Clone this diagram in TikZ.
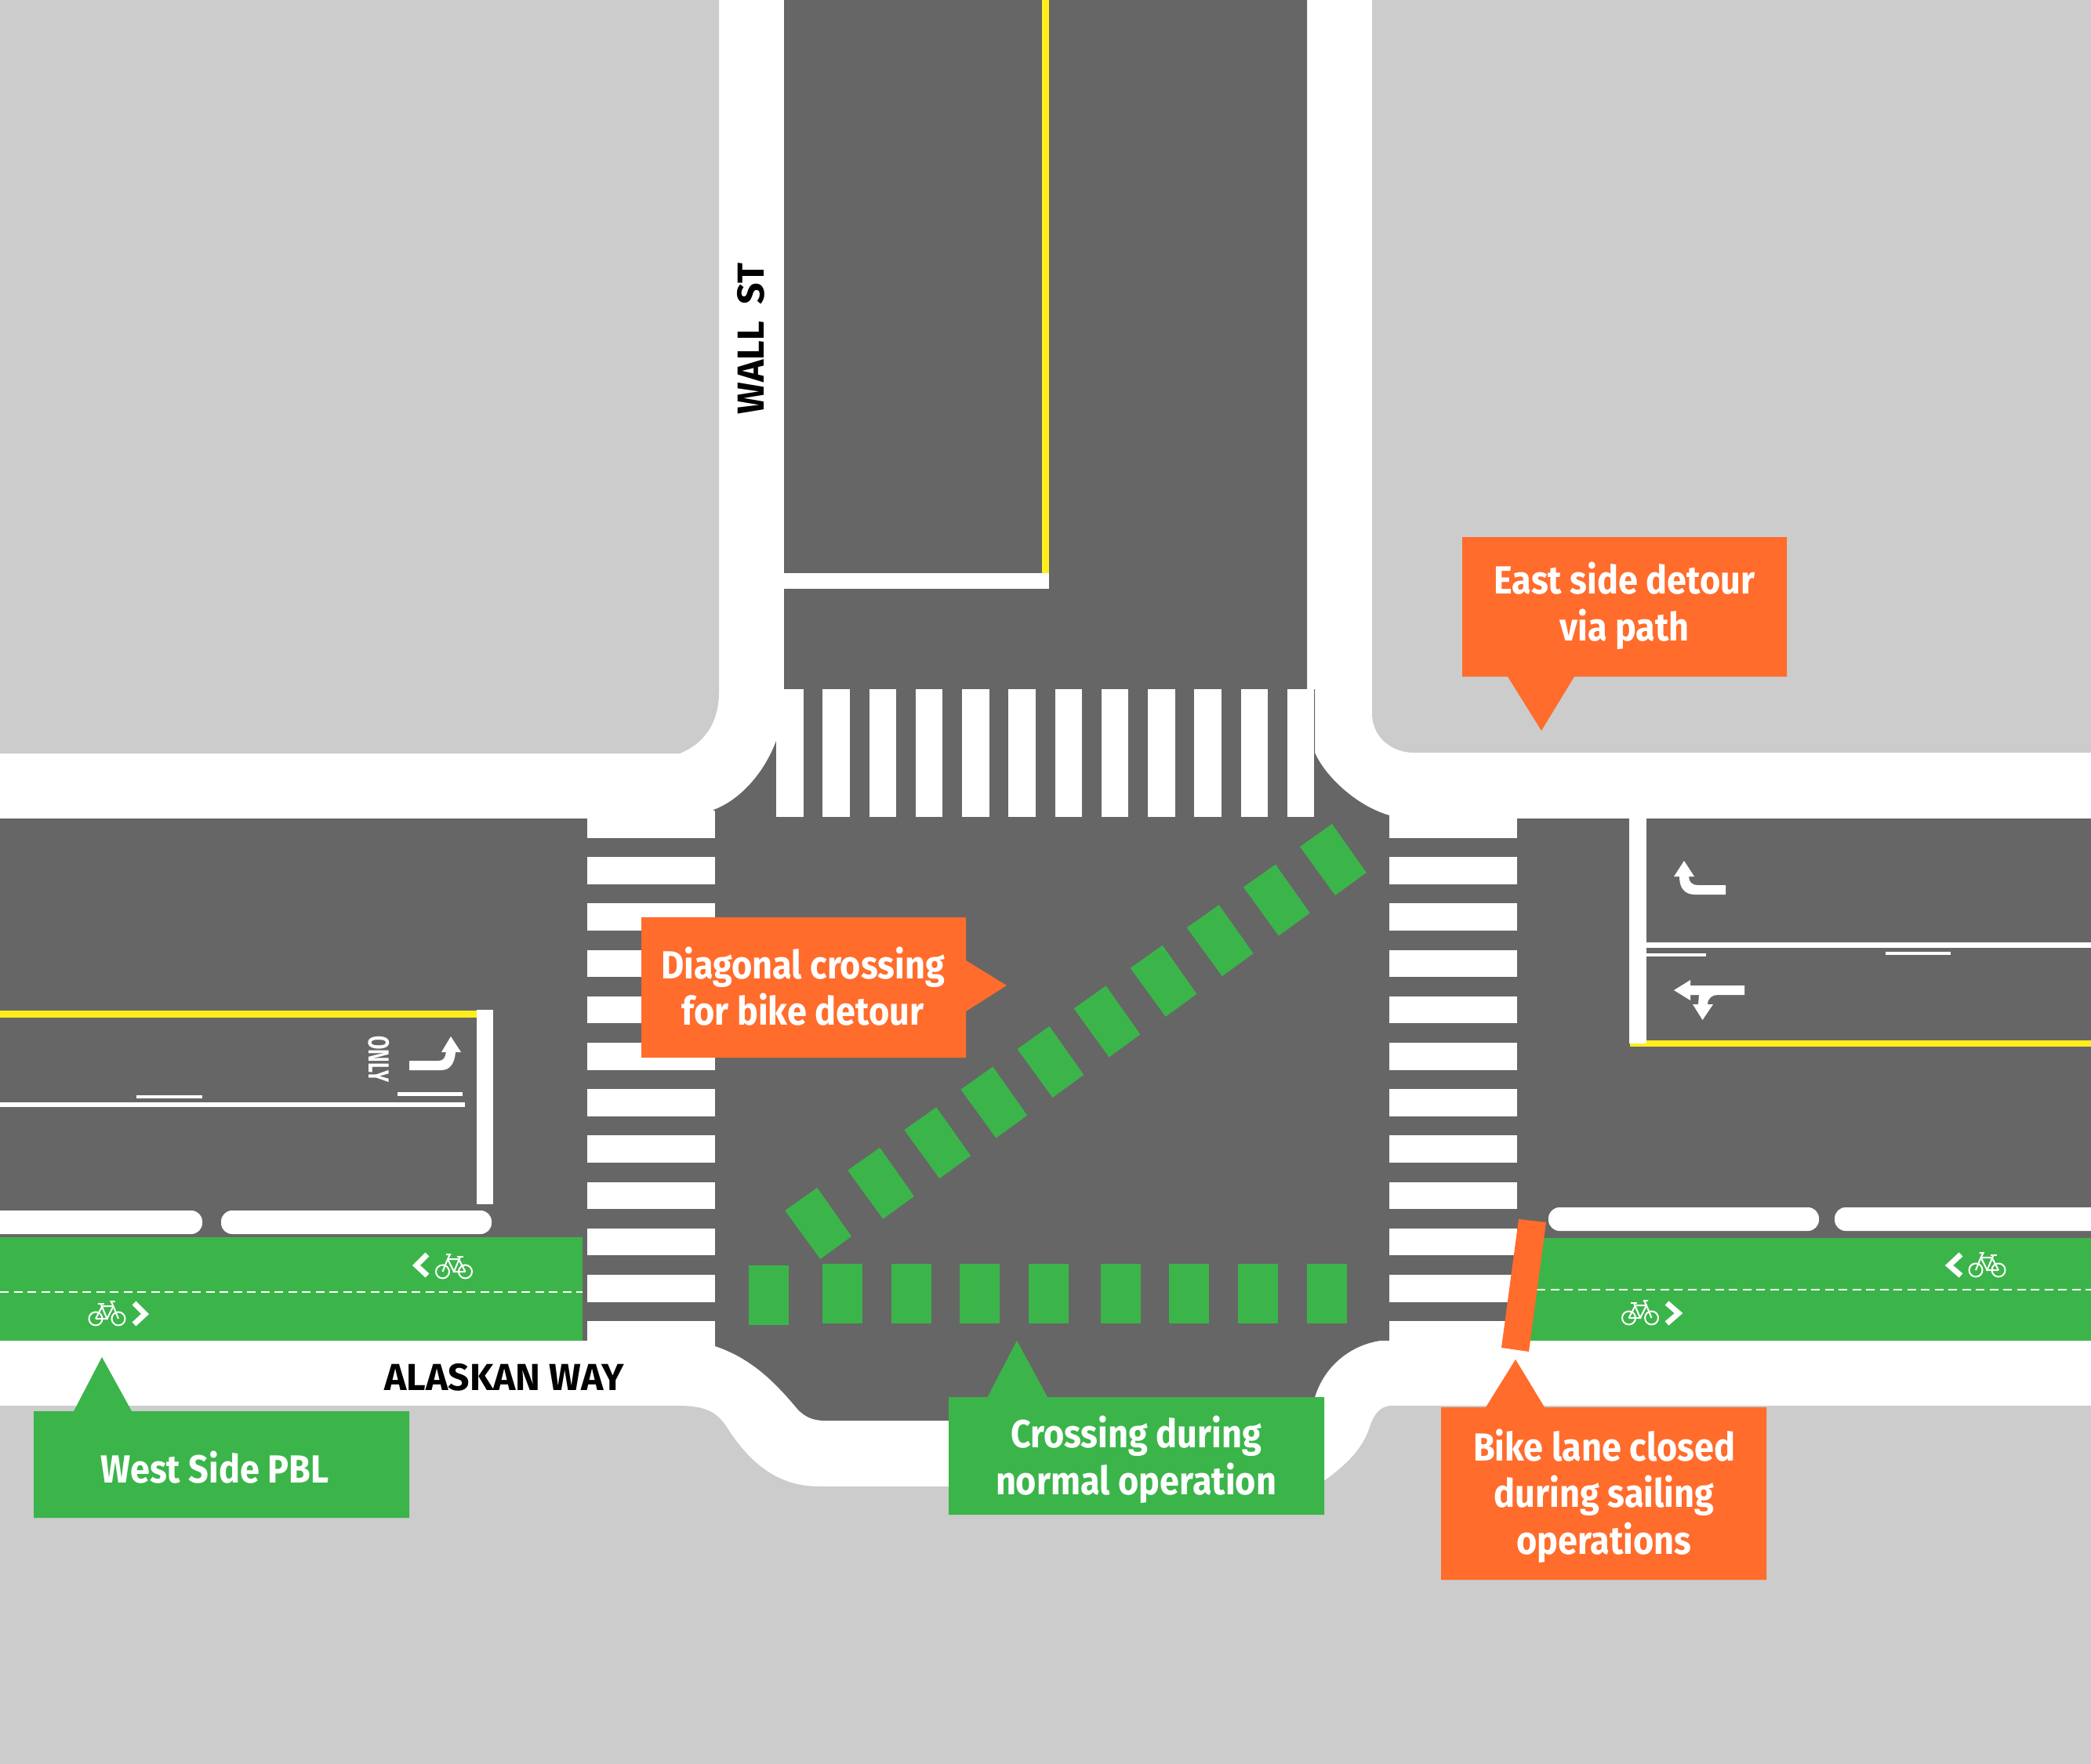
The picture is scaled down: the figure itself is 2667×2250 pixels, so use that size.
\documentclass[tikz,border=0pt]{standalone}
\usepackage{fontspec}
\setmainfont{Fira Sans}[FakeStretch=0.9]
\newfontfamily\roadfont{Fira Sans}
\newfontfamily\onlyfont{Fira Sans}[FakeStretch=0.68]
\definecolor{asphalt}{HTML}{666666}
\definecolor{ground}{HTML}{CCCCCC}
\definecolor{lanegreen}{HTML}{3BB54A}
\definecolor{callorange}{HTML}{FF6C2C}
\definecolor{centeryellow}{HTML}{FFED1D}
\tikzset{
  whitefill/.style={fill=white},
  greencall/.style={fill=lanegreen},
  orangecall/.style={fill=callorange},
  calltext/.style={text=white,align=center,font=\fontsize{50}{59.5}\selectfont\bfseries,inner sep=0pt},
  roadname/.style={text=black,font=\roadfont\fontsize{48}{60}\selectfont\bfseries,inner sep=0pt},
  pillmark/.style={fill=white,rounded corners=14pt},
  bikeline/.style={draw=white,line width=2pt,fill=none},
  chevron/.style={draw=white,line width=7pt,miter limit=10},
  dashmark/.style={draw=white,line width=2pt,dash pattern=on 11pt off 6.5pt},
  bikeglyph/.pic={
    \draw[bikeline] (-14.5,0) circle (8.5);
    \draw[bikeline] (14.5,0) circle (8.5);
    \draw[bikeline] (-14.5,0) -- (-6,-16) -- (8,-16) -- (14.5,0);
    \draw[bikeline] (-14.5,0) -- (0,0) -- (-8,-19);
    \draw[bikeline] (0,0) -- (8,-16);
    \draw[bikeline] (-12,-19) -- (-4,-19);
    \draw[bikeline] (8,-16) -- (5,-22) -- (10,-22);
  }
}
\begin{document}
\begin{tikzpicture}[x=1pt,y=-1pt]
\useasboundingbox (0,0) rectangle (2667,2250);
\fill[white] (0,0) rectangle (2667,2250);
% ground blocks
\fill[ground] (0,0) -- (917,0) -- (917,883) .. controls (917,925) and (895,950) .. (867,961) -- (0,961) -- cycle;
\fill[ground] (1750,0) -- (2667,0) -- (2667,960) -- (1803,960) .. controls (1775,960) and (1750,940) .. (1750,910) -- cycle;
\fill[ground] (0,1793) -- (863,1793) .. controls (900,1793) and (915,1800) .. (930,1825)
  .. controls (960,1870) and (995,1896) .. (1045,1896) -- (1680,1896) -- (1690,1888)
  .. controls (1712,1872) and (1738,1850) .. (1747,1820) .. controls (1752,1805) and (1760,1793) .. (1775,1793)
  -- (2667,1793) -- (2667,2250) -- (0,2250) -- cycle;
% asphalt
\fill[asphalt] (1000,0) -- (1000,879) -- (990,879) -- (990,945) .. controls (975,985) and (945,1020) .. (910,1033)
  -- (912,1044) -- (0,1044) -- (0,1710) -- (912,1710) -- (912,1717)
  .. controls (960,1733) and (990,1765) .. (1017,1797) .. controls (1027,1808) and (1038,1812) .. (1052,1812) -- (1640,1812)
  .. controls (1665,1812) and (1670,1800) .. (1677,1782)
  .. controls (1690,1740) and (1725,1715) .. (1761,1710) -- (2667,1710) -- (2667,1044) -- (1772,1044) -- (1772,1040)
  .. controls (1730,1028) and (1690,990) .. (1677,960) -- (1677,879) -- (1667,879) -- (1667,0) -- cycle;
% north crosswalk
\foreach \k in {0,...,11}{\fill[white] ({990+59.27*\k},879) rectangle ++(34.5,163);}
% west and east crosswalks
\foreach \k in {0,...,11}{
  \fill[white] (749,{1034+59.2*\k}) rectangle (912,{1068.5+59.2*\k});
  \fill[white] (1772,{1034+59.2*\k}) rectangle (1935,{1068.5+59.2*\k});
}
\fill[white] (749,1034) rectangle (912,1044);
\fill[white] (749,1700) rectangle (912,1722);
\fill[white] (1772,1700) rectangle (1935,1722);
% north road markings
\fill[centeryellow] (1329,0) rectangle (1337.5,735);
\fill[white] (1000,731) rectangle (1338,751);
% green lanes
\fill[lanegreen] (0,1578) rectangle (743,1710);
\fill[lanegreen] (1945,1579) rectangle (2667,1710);
\path[dashmark] (0,1648) -- (743,1648);
\path[dashmark] (1960,1645) -- (2667,1645);
% buffers
\fill[pillmark] (-40,1544) rectangle (258,1574);
\fill[pillmark] (282,1544) rectangle (627,1574);
\fill[pillmark] (1975,1540) rectangle (2320,1570);
\fill[pillmark] (2340,1540) rectangle (2720,1570);
% west road markings
\fill[centeryellow] (0,1289) rectangle (608,1298);
\fill[white] (608,1288) rectangle (629,1536);
\fill[white] (0,1406) rectangle (593,1412);
\fill[white] (174,1397) rectangle (258,1401);
\fill[white] (507,1393) rectangle (590,1398);
\fill[white] (522,1353) -- (560,1353) .. controls (566,1353) and (568,1348) .. (569,1342) -- (563,1342) -- (575,1322) -- (588,1342) -- (581,1342)
  .. controls (580,1356) and (574,1365) .. (563,1365) -- (522,1365) -- cycle;
\node[rotate=-90,text=white,inner sep=0pt,font=\onlyfont\fontsize{37}{37}\selectfont\bfseries] (onlytext) at (483,1351) {ONLY};
% east road markings
\fill[centeryellow] (2079,1326.5) rectangle (2667,1335);
\fill[white] (2078,1044) rectangle (2100,1331);
\fill[white] (2100,1202) rectangle (2667,1209);
\fill[white] (2100,1216) rectangle (2176,1220);
\fill[white] (2405,1214) rectangle (2488,1218);
\fill[white] (2148,1098) -- (2161,1118) -- (2154,1118) .. controls (2154,1125) and (2158,1129) .. (2166,1129) -- (2201,1129) -- (2201,1141) -- (2162,1141)
  .. controls (2148,1141) and (2142,1132) .. (2142,1118) -- (2135,1118) -- cycle;
\fill[white] (2135,1263) -- (2156,1250) -- (2156,1257) -- (2225,1257) -- (2225,1269) -- (2191,1269) .. controls (2184,1269) and (2178,1273) .. (2178,1281)
  -- (2185,1281) -- (2171.5,1301) -- (2159,1281) -- (2166,1281) -- (2167,1269) -- (2156,1269) -- (2156,1276) -- cycle;
% bike symbols
\pic[xscale=-1] at (579,1622) {bikeglyph};
\pic at (136.5,1682) {bikeglyph};
\pic[xscale=-1] at (2534.5,1620) {bikeglyph};
\pic at (2092,1681) {bikeglyph};
\draw[chevron] (545,1600) -- (531,1614) -- (545,1627);
\draw[chevron] (171,1662) -- (185,1676) -- (171,1689);
\draw[chevron] (2501,1600) -- (2486,1614) -- (2501,1627);
\draw[chevron] (2126,1662) -- (2141,1675) -- (2126,1688);
% closed bar
\fill[callorange] (1937,1555) -- (1972,1559) -- (1950,1724) -- (1915,1719) -- cycle;
% normal crossing
\fill[lanegreen] (955,1614) rectangle (1005.5,1690);
\foreach \x in {1049,1137,1224,1312,1404,1491,1579,1667}{\fill[lanegreen] (\x,1612) rectangle ++(50.5,76);}
% diagonal crossing
\foreach \k in {0,...,8}{
  \fill[lanegreen,shift={({1700.75-72.1*\k},{1096+51.6*\k})}] (-1.75,-45) -- (42,17) -- (2.25,46) -- (-42.75,-16) -- cycle;
}
\fill[lanegreen,shift={(1044,1560)}] (-1.75,-45) -- (42,17) -- (2.25,46) -- (-42.75,-16) -- cycle;
% callouts
\fill[orangecall] (1865,685) -- (2279,685) -- (2279,863) -- (2008,863) -- (1966,932) -- (1923,863) -- (1865,863) -- cycle;
\node[calltext] (eastlabel) at (2072,773) {East side detour\\via path};
\fill[orangecall] (818,1170) -- (1232,1170) -- (1232,1225) -- (1284,1257) -- (1232,1290) -- (1232,1349) -- (818,1349) -- cycle;
\node[calltext] (diaglabel) at (1024,1258) {Diagonal crossing\\for bike detour};
\fill[greencall] (1210,1782) -- (1259.5,1782) -- (1297,1710) -- (1336,1782) -- (1689,1782) -- (1689,1932) -- (1210,1932) -- cycle;
\node[calltext] (normlabel) at (1449,1862) {Crossing during\\normal operation};
\fill[greencall] (43,1800) -- (94,1800) -- (130,1731) -- (168,1800) -- (522,1800) -- (522,1936) -- (43,1936) -- cycle;
\node[calltext] (westlabel) at (274,1872) {West Side PBL};
\fill[orangecall] (1838,1795) -- (1895,1795) -- (1933,1734) -- (1970,1795) -- (2253,1795) -- (2253,2015) -- (1838,2015) -- cycle;
\node[calltext] (closedlabel) at (2046,1908) {Bike lane closed\\during sailing\\operations};
% street names
\node[roadname,rotate=90] (wallname) at (958,432) {WALL\hspace{22pt}ST};
\node[roadname] (alaskanname) at (643,1757) {ALASKAN WAY};
\end{tikzpicture}
\end{document}
